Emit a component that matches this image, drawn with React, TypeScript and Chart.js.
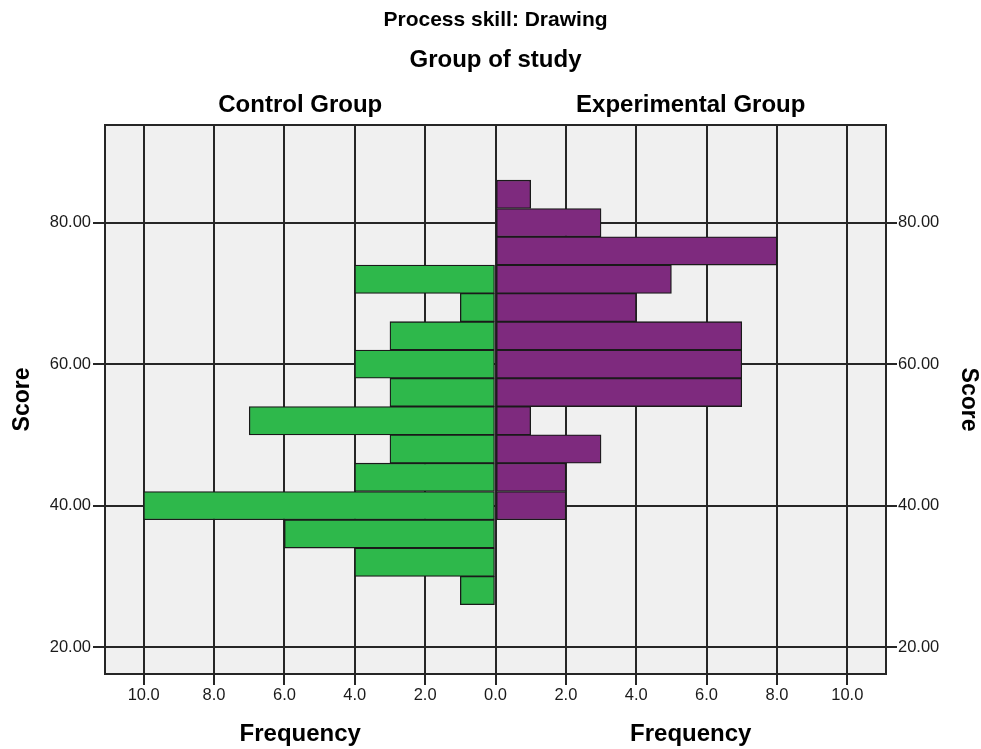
import React, { useEffect, useRef } from "react";
import { Chart, registerables } from "chart.js";

Chart.register(...registerables);

// ---- data ----
const binCenters = [84, 80, 76, 72, 68, 64, 60, 56, 52, 48, 44, 40, 36, 32, 28];
const controlCounts = [0, 0, 0, 4, 1, 3, 4, 3, 7, 3, 4, 10, 6, 4, 1];
const experimentalCounts = [1, 3, 8, 5, 4, 7, 7, 7, 1, 3, 2, 2, 0, 0, 0];
const scoreTicks = [20, 40, 60, 80];
const frequencyTicks = [-10, -8, -6, -4, -2, 0, 2, 4, 6, 8, 10];
const groupLabels = ["Control Group", "Experimental Group"];
const chartTitle = "Process skill: Drawing";
const panelTitle = "Group of study";
const xAxisTitle = "Frequency";
const yAxisTitle = "Score";

const FONT = '"Liberation Sans", Arial, sans-serif';
const LINE = "#262626";

const textPlugin = {
  id: "pyramidText",
  beforeDraw(chart: any) {
    const { ctx, chartArea: a } = chart;
    ctx.save();
    ctx.fillStyle = "#F0F0F0";
    ctx.fillRect(a.left, a.top, a.right - a.left, a.bottom - a.top);
    ctx.restore();
  },
  beforeDatasetsDraw(chart: any) {
    const { ctx, chartArea: a } = chart;
    ctx.save();
    ctx.strokeStyle = LINE;
    ctx.lineWidth = 2;
    ctx.beginPath();
    ctx.moveTo(a.left - 1, a.top);
    ctx.lineTo(a.right + 1, a.top);
    ctx.stroke();
    ctx.restore();
  },
  afterDraw(chart: any) {
    const { ctx, chartArea: a } = chart;
    const x0 = chart.scales.x.getPixelForValue(0);
    const leftC = (a.left + x0) / 2;
    const rightC = (x0 + a.right) / 2;
    ctx.save();
    ctx.fillStyle = "#000";
    ctx.textAlign = "center";
    ctx.textBaseline = "alphabetic";
    ctx.font = `bold 21px ${FONT}`;
    ctx.fillText(chartTitle, x0, 26);
    ctx.font = `bold 24px ${FONT}`;
    ctx.fillText(panelTitle, x0, 67);
    ctx.fillText(groupLabels[0], leftC, 112);
    ctx.fillText(groupLabels[1], rightC, 112);
    ctx.fillText(xAxisTitle, leftC, 741);
    ctx.fillText(xAxisTitle, rightC, 741);
    const yMid = (a.top + a.bottom) / 2;
    ctx.font = `bold 23px ${FONT}`;
    ctx.save();
    ctx.translate(29, yMid);
    ctx.rotate(-Math.PI / 2);
    ctx.fillText(yAxisTitle, 0, 0);
    ctx.restore();
    ctx.save();
    ctx.translate(962, yMid);
    ctx.rotate(Math.PI / 2);
    ctx.fillText(yAxisTitle, 0, 0);
    ctx.restore();
    ctx.restore();
  },
};

export default function App() {
  const ref = useRef<HTMLCanvasElement | null>(null);

  useEffect(() => {
    if (!ref.current) return;
    const controlData = binCenters.map((c, i) => ({
      y: c,
      x: controlCounts[i] ? -controlCounts[i] : null,
    }));
    const expData = binCenters.map((c, i) => ({
      y: c,
      x: experimentalCounts[i] ? experimentalCounts[i] : null,
    }));
    const tickFont = { family: FONT, size: 16.5 };
    const chart = new Chart(ref.current, {
      type: "bar",
      data: {
        datasets: [
          {
            label: groupLabels[0],
            data: controlData as any,
            backgroundColor: "#2EB84B",
            borderColor: "#1a1a1a",
            borderWidth: 1.3,
            borderSkipped: false,
            barPercentage: 1,
            categoryPercentage: 1,
          },
          {
            label: groupLabels[1],
            data: expData as any,
            backgroundColor: "#7E2A7E",
            borderColor: "#1a1a1a",
            borderWidth: 1.3,
            borderSkipped: false,
            barPercentage: 1,
            categoryPercentage: 1,
          },
        ],
      },
      options: {
        indexAxis: "y",
        responsive: false,
        animation: false,
        layout: { padding: { top: 125, left: 0, right: 0, bottom: 0 } },
        plugins: {
          legend: { display: false },
          tooltip: { enabled: false },
          title: { display: false },
        },
        scales: {
          x: {
            type: "linear",
            stacked: true,
            offset: false,
            min: -11.1,
            max: 11.1,
            afterBuildTicks: (s: any) => {
              s.ticks = frequencyTicks.map((v) => ({ value: v }));
            },
            afterFit: (s: any) => {
              s.height = 75;
            },
            ticks: {
              callback: (v: any) => Math.abs(Number(v)).toFixed(1),
              font: tickFont,
              color: "#1a1a1a",
              padding: 1,
              maxRotation: 0,
              autoSkip: false,
            },
            grid: { color: LINE, lineWidth: 2, tickLength: 11, drawTicks: true, offset: false },
            border: { display: true, color: LINE, width: 2 },
          },
          y: {
            type: "linear",
            stacked: true,
            position: "left",
            offset: false,
            reverse: false,
            min: 16.2,
            max: 93.8,
            afterBuildTicks: (s: any) => {
              s.ticks = scoreTicks.map((v) => ({ value: v }));
            },
            afterFit: (s: any) => {
              s.width = 105;
            },
            ticks: {
              callback: (v: any) => Number(v).toFixed(2),
              font: tickFont,
              color: "#1a1a1a",
              padding: 2,
              autoSkip: false,
            },
            grid: { color: LINE, lineWidth: 2, tickLength: 12, drawTicks: true, offset: false },
            border: { display: true, color: LINE, width: 2 },
          },
          y2: {
            type: "linear",
            position: "right",
            offset: false,
            min: 16.2,
            max: 93.8,
            afterBuildTicks: (s: any) => {
              s.ticks = scoreTicks.map((v) => ({ value: v }));
            },
            afterFit: (s: any) => {
              s.width = 95;
            },
            ticks: {
              callback: (v: any) => Number(v).toFixed(2),
              font: tickFont,
              color: "#1a1a1a",
              padding: 1,
              autoSkip: false,
            },
            grid: {
              color: LINE,
              lineWidth: 2,
              tickLength: 11,
              drawTicks: true,
              drawOnChartArea: false,
              offset: false,
            },
            border: { display: true, color: LINE, width: 2 },
          },
        },
      },
      plugins: [textPlugin],
    } as any);
    return () => chart.destroy();
  }, []);

  return (
    <div style={{ position: "absolute", left: 0, top: 0, width: 981, height: 749, background: "#fff" }}>
      <canvas ref={ref} width={981} height={749} style={{ width: 981, height: 749, display: "block" }} />
    </div>
  );
}
